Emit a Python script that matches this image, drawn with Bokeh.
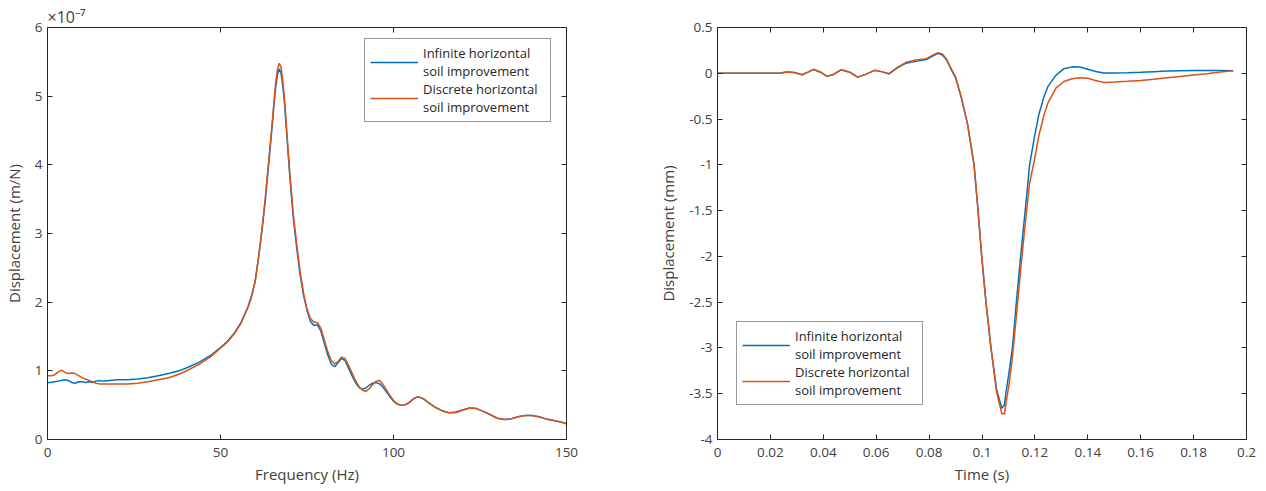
from bokeh.plotting import figure
from bokeh.models import (Range1d, LinearAxis, FixedTicker, Legend, LegendItem,
                          CustomJSTickFormatter, CustomLabelingPolicy)
from bokeh.layouts import row
from bokeh.embed import file_html
from bokeh.resources import INLINE

# ---------------- data: left panel (frequency response, units of 1e-7 m/N) -------------
freq_hz = [0, 1, 2, 3, 4, 5, 6, 7, 8, 9,
           10, 11, 12, 13, 14, 15, 16, 18, 20, 23,
           26, 29, 32, 35, 38, 41, 44, 47, 50, 52,
           54, 56, 58, 59, 60, 61, 62, 63, 64, 65,
           65.5, 66, 66.5, 67, 67.5, 68, 68.5, 69, 70, 71,
           72, 73, 74, 75, 76, 77, 78, 79, 80, 81,
           82, 83, 84, 85, 86, 87, 88, 89, 90, 91,
           92, 93, 94, 95, 96, 97, 98, 99, 100, 101,
           102, 103, 104, 105, 106, 107, 108, 109, 110, 112,
           114, 116, 118, 120, 122, 124, 126, 128, 130, 132,
           134, 136, 138, 140, 142, 144, 146, 148, 150]
frf_infinite = [0.83, 0.83, 0.84, 0.85, 0.86, 0.87, 0.86, 0.83, 0.82, 0.84,
                0.84, 0.83, 0.84, 0.83, 0.85, 0.86, 0.85, 0.86, 0.87, 0.87,
                0.88, 0.90, 0.93, 0.96, 1.00, 1.06, 1.13, 1.22, 1.34, 1.43,
                1.55, 1.71, 1.94, 2.10, 2.30, 2.65, 3.05, 3.50, 4.05, 4.60,
                4.90, 5.15, 5.32, 5.40, 5.33, 5.15, 4.90, 4.55, 3.85, 3.25,
                2.80, 2.40, 2.10, 1.88, 1.72, 1.66, 1.67, 1.58, 1.40, 1.23,
                1.10, 1.06, 1.12, 1.18, 1.15, 1.04, 0.93, 0.83, 0.76, 0.73,
                0.75, 0.79, 0.82, 0.83, 0.81, 0.76, 0.69, 0.62, 0.56, 0.52,
                0.50, 0.50, 0.52, 0.56, 0.60, 0.62, 0.61, 0.58, 0.54, 0.47,
                0.42, 0.39, 0.40, 0.43, 0.46, 0.45, 0.41, 0.36, 0.31, 0.29,
                0.30, 0.33, 0.35, 0.35, 0.33, 0.30, 0.28, 0.26, 0.23]
frf_discrete = [0.93, 0.93, 0.94, 0.98, 1.01, 0.98, 0.96, 0.97, 0.96, 0.93,
                0.90, 0.88, 0.86, 0.84, 0.82, 0.81, 0.81, 0.81, 0.81, 0.81,
                0.82, 0.84, 0.87, 0.90, 0.95, 1.02, 1.10, 1.20, 1.33, 1.42,
                1.54, 1.70, 1.93, 2.08, 2.30, 2.65, 3.07, 3.55, 4.10, 4.65,
                4.95, 5.22, 5.40, 5.48, 5.42, 5.22, 4.95, 4.60, 3.90, 3.30,
                2.85, 2.45, 2.13, 1.90, 1.76, 1.71, 1.70, 1.62, 1.45, 1.28,
                1.15, 1.10, 1.14, 1.20, 1.18, 1.08, 0.97, 0.86, 0.77, 0.72,
                0.70, 0.74, 0.80, 0.85, 0.86, 0.80, 0.72, 0.64, 0.57, 0.52,
                0.50, 0.50, 0.52, 0.56, 0.60, 0.62, 0.61, 0.58, 0.54, 0.47,
                0.42, 0.39, 0.39, 0.43, 0.46, 0.45, 0.41, 0.36, 0.31, 0.29,
                0.30, 0.33, 0.35, 0.35, 0.33, 0.30, 0.28, 0.26, 0.23]

# ---------------- data: right panel (time history, mm) ----------------------------------
time_s = [0, 0.01, 0.02, 0.024, 0.026, 0.029, 0.032, 0.0342, 0.0364, 0.039,
          0.0414, 0.044, 0.0467, 0.05, 0.053, 0.056, 0.0594, 0.062, 0.0648, 0.068,
          0.0713, 0.075, 0.079, 0.0815, 0.0833, 0.085, 0.0865, 0.088, 0.090, 0.092,
          0.0945, 0.097, 0.0985, 0.0999, 0.1015, 0.1034, 0.1055, 0.1075, 0.1085, 0.109,
          0.1103, 0.1115, 0.113, 0.1146, 0.1165, 0.118, 0.1198, 0.1215, 0.1235, 0.125,
          0.128, 0.131, 0.134, 0.137, 0.140, 0.143, 0.146, 0.150, 0.155, 0.160,
          0.165, 0.170, 0.175, 0.180, 0.185, 0.190, 0.195]
disp_infinite = [0, 0, 0, 0.003, 0.015, 0.008, -0.016, 0.012, 0.042, 0.012,
                 -0.034, -0.01, 0.038, 0.012, -0.042, -0.012, 0.032, 0.018, -0.006, 0.06,
                 0.11, 0.13, 0.15, 0.19, 0.215, 0.20, 0.15, 0.06, -0.05, -0.25,
                 -0.55, -1.0, -1.5, -2.0, -2.5, -3.0, -3.45, -3.66, -3.62, -3.5,
                 -3.25, -3.0, -2.5, -2.0, -1.45, -1.0, -0.7, -0.45, -0.25, -0.14,
                 -0.02, 0.05, 0.07, 0.068, 0.045, 0.02, 0.003, 0.003, 0.005, 0.01,
                 0.017, 0.024, 0.028, 0.03, 0.031, 0.03, 0.028]
disp_discrete = [0, 0, 0, 0.003, 0.015, 0.008, -0.016, 0.012, 0.042, 0.012,
                 -0.034, -0.01, 0.038, 0.012, -0.042, -0.012, 0.032, 0.018, -0.006, 0.065,
                 0.12, 0.145, 0.16, 0.20, 0.225, 0.21, 0.16, 0.07, -0.04, -0.24,
                 -0.55, -1.0, -1.5, -2.0, -2.5, -3.0, -3.48, -3.72, -3.72, -3.62,
                 -3.38, -3.1, -2.65, -2.15, -1.6, -1.2, -0.95, -0.68, -0.45, -0.32,
                 -0.16, -0.09, -0.06, -0.048, -0.055, -0.08, -0.1, -0.095, -0.088, -0.078,
                 -0.065, -0.05, -0.035, -0.02, -0.005, 0.015, 0.027]

freq_ticks = [0, 50, 100, 150]
frf_ticks = [0, 1, 2, 3, 4, 5, 6]
frf_scale_label = "×10⁻⁷"
time_ticks = [0, 0.02, 0.04, 0.06, 0.08, 0.1, 0.12, 0.14, 0.16, 0.18, 0.2]
time_tick_labels = ["0", "0.02", "0.04", "0.06", "0.08", "0.1", "0.12", "0.14", "0.16", "0.18", "0.2"]
disp_ticks = [-4, -3.5, -3, -2.5, -2, -1.5, -1, -0.5, 0, 0.5]
disp_tick_labels = ["-4", "-3.5", "-3", "-2.5", "-2", "-1.5", "-1", "-0.5", "0", "0.5"]
series_names = ["Infinite horizontal\nsoil improvement", "Discrete horizontal\nsoil improvement"]

assert len(freq_hz) == len(frf_infinite) == len(frf_discrete)
assert len(time_s) == len(disp_infinite) == len(disp_discrete)

FONT = "Open Sans"
TXT = "#404040"
AXC = "#262626"
BLUE = "#0072BD"
ORANGE = "#D95319"


def style_axis(ax, ticks, overrides=None, show_labels=True):
    ax.ticker = FixedTicker(ticks=ticks)
    ax.minor_tick_line_color = None
    ax.major_tick_in = 5
    ax.major_tick_out = 0
    ax.axis_line_color = AXC
    ax.major_tick_line_color = AXC
    ax.axis_line_width = 1
    ax.major_label_text_font = FONT
    ax.major_label_text_color = TXT
    ax.major_label_text_font_size = "13.5px"
    ax.axis_label_text_font = FONT
    ax.axis_label_text_color = TXT
    ax.axis_label_text_font_size = "15px"
    ax.axis_label_text_font_style = "normal"
    if overrides:
        ax.major_label_overrides = overrides
    if not show_labels:
        ax.formatter = CustomJSTickFormatter(code="return ''")
        ax.major_label_policy = CustomLabelingPolicy(
            code="for (const i of indices) { indices.unset(i) } return indices")
        ax.major_label_standoff = 0


def make_fig(width, xr, yr, borders):
    left, right, top, bottom = borders
    p = figure(width=width, height=491, x_range=xr, y_range=yr,
               output_backend="svg", toolbar_location=None,
               min_border_left=left, min_border_right=right,
               min_border_top=top, min_border_bottom=bottom)
    p.outline_line_color = None
    p.xgrid.visible = False
    p.ygrid.visible = False
    p.background_fill_color = "white"
    return p


def finish(p, xticks, yticks, xover, yover, xlabel, ylabel):
    style_axis(p.xaxis[0], xticks, xover)
    style_axis(p.yaxis[0], yticks, yover)
    p.xaxis[0].axis_label = xlabel
    p.yaxis[0].axis_label = ylabel
    p.xaxis[0].major_label_standoff = 8
    p.yaxis[0].major_label_standoff = 5
    p.xaxis[0].axis_label_standoff = 4
    p.yaxis[0].axis_label_standoff = 8
    top = LinearAxis()
    style_axis(top, xticks, show_labels=False)
    rgt = LinearAxis()
    style_axis(rgt, yticks, show_labels=False)
    p.add_layout(top, "above")
    p.add_layout(rgt, "right")


def add_legend(p, renderers, loc):
    items = [LegendItem(label=n, renderers=[r]) for n, r in zip(series_names, renderers)]
    lg = Legend(items=items, location=loc, orientation="vertical")
    lg.border_line_color = "#333333"
    lg.border_line_width = 1
    lg.background_fill_color = "white"
    lg.background_fill_alpha = 1
    lg.label_text_font = FONT
    lg.label_text_font_size = "13px"
    lg.label_text_color = "#262626"
    lg.label_text_line_height = 1.35
    lg.glyph_width = 48
    lg.label_standoff = 5
    lg.label_width = 122
    lg.padding = 5
    lg.spacing = 0
    lg.margin = 0
    p.add_layout(lg, "center")


# ---------------- left figure ----------------
p1 = make_fig(620, Range1d(0, 150), Range1d(0, 6), (47, 54, 27, 52))
r1 = p1.line(freq_hz, frf_infinite, line_color=BLUE, line_width=1.5)
r2 = p1.line(freq_hz, frf_discrete, line_color=ORANGE, line_width=1.5)
finish(p1, freq_ticks, frf_ticks, None, None, "Frequency (Hz)", "Displacement (m/N)")
add_legend(p1, [r1, r2], (317, 317))
p1.title.text = frf_scale_label
p1.title.align = "left"
p1.title.offset = 0
p1.title.standoff = 0
p1.title.text_font = FONT
p1.title.text_font_size = "16px"
p1.title.text_font_style = "normal"
p1.title.text_color = TXT

# ---------------- right figure ----------------
p2 = make_fig(646, Range1d(0, 0.2), Range1d(-4, 0.5), (97, 20, 21, 52))
s1 = p2.line(time_s, disp_infinite, line_color=BLUE, line_width=1.5)
s2 = p2.line(time_s, disp_discrete, line_color=ORANGE, line_width=1.5)
finish(p2, time_ticks, disp_ticks,
       dict(zip(time_ticks, time_tick_labels)), dict(zip(disp_ticks, disp_tick_labels)),
       "Time (s)", "Displacement (mm)")
add_legend(p2, [s1, s2], (19, 34))

layout = row(p1, p2)
open("out.html", "w").write(file_html(layout, INLINE))
